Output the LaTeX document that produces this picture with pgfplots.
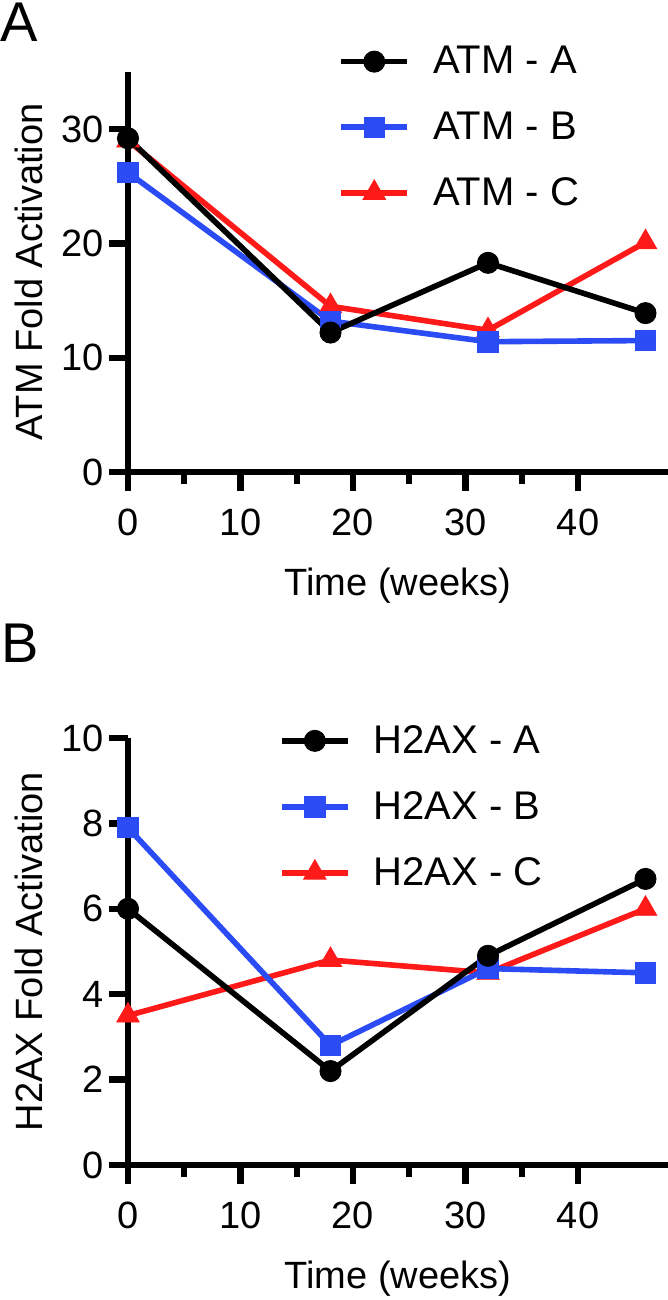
\documentclass[border=0pt]{standalone}
\usepackage{fontspec}
\setmainfont{Liberation Sans}
\usepackage{pgfplots}
\pgfplotsset{compat=1.18}
\definecolor{myblue}{HTML}{2B4CF5}
\definecolor{myred}{HTML}{FF1A1A}
\newcommand{\fs}{\fontsize{19}{19}\selectfont}
\newcommand{\fl}{\fontsize{20}{20}\selectfont}
\pgfplotsset{
  panel/.style={
    scale only axis, width=270pt,
    xmin=0, xmax=48, ymin=0,
    axis x line*=bottom, axis y line*=left,
    axis line style={line width=3.2pt, black},
    tick style={line width=3.2pt, black},
    tick align=outside,
    major tick length=9.5pt, minor tick length=6pt,
    xtick={0,10,20,30,40}, minor x tick num=1,
    clip=false,
    /pgf/number format/assume math mode=true,
    tick label style={font=\fs},
    xticklabel shift=5.5pt,
    yticklabel shift=-1pt,
    every axis x label/.style={at={(axis description cs:0.5,0)}, anchor=center, yshift=-57pt, font=\fs},
    every axis y label/.style={at={([xshift=-49.5pt]axis description cs:0,0.5)}, rotate=90, anchor=center, font=\fs},
    legend cell align=left,
    reverse legend,
    legend style={draw=none, fill=none, inner sep=0pt, row sep=17.5pt,
      font=\fl,
      nodes={inner sep=0pt},
      /tikz/every odd column/.append style={column sep=11.5pt}},
    legend image code/.code={
      \draw[mark repeat=2, mark phase=2, #1] plot coordinates {(0pt,0pt) (16.5pt,0pt) (33pt,0pt)};
    },
    every axis plot/.append style={line width=2.8pt},
  },
  serA/.style={black, mark=*, mark size=5.3pt, mark options={line width=0.4pt}},
  serB/.style={myblue, mark=square*, mark size=5.1pt, mark options={line width=0.4pt}},
  serC/.style={myred, mark=triangle*, mark size=6.5pt, mark options={line width=0.4pt}},
}
\begin{document}
\begin{tikzpicture}
\path[use as bounding box] (0,0) rectangle (334pt,650pt);
\node[anchor=base west, inner sep=0pt, font=\fontsize{28}{28}\selectfont] at (0pt,629pt) {A};
\node[anchor=base west, inner sep=0pt, font=\fontsize{28}{28}\selectfont] at (0.5pt,318.5pt) {B};
\begin{axis}[panel, at={(64pt,414pt)}, anchor=south west,
  height=200pt, ymax=35, ytick={0,10,20,30},
  xlabel={Time (weeks)}, ylabel={ATM Fold Activation},
  legend style={at={(axis description cs:0.389,1)}, anchor=north west, yshift=13pt}]
\addplot[serC] coordinates {(0,29.0) (18,14.5) (32,12.4) (46,20.1)};
\addlegendentry{ATM - C}
\addplot[serB] coordinates {(0,26.2) (18,13.2) (32,11.4) (46,11.5)};
\addlegendentry{ATM - B}
\addplot[serA] coordinates {(0,29.2) (18,12.2) (32,18.3) (46,13.9)};
\addlegendentry{ATM - A}
\end{axis}
\begin{axis}[panel, at={(64pt,67.5pt)}, anchor=south west,
  height=213.5pt, ymax=10, ytick={0,2,4,6,8,10},
  xlabel={Time (weeks)}, ylabel={H2AX Fold Activation},
  legend style={at={(axis description cs:0.279,1)}, anchor=north west, yshift=6.5pt}]
\addplot[serC] coordinates {(0,3.5) (18,4.8) (32,4.5) (46,6.0)};
\addlegendentry{H2AX - C}
\addplot[serB] coordinates {(0,7.9) (18,2.8) (32,4.6) (46,4.5)};
\addlegendentry{H2AX - B}
\addplot[serA] coordinates {(0,6.0) (18,2.2) (32,4.9) (46,6.7)};
\addlegendentry{H2AX - A}
\end{axis}
\end{tikzpicture}
\end{document}
